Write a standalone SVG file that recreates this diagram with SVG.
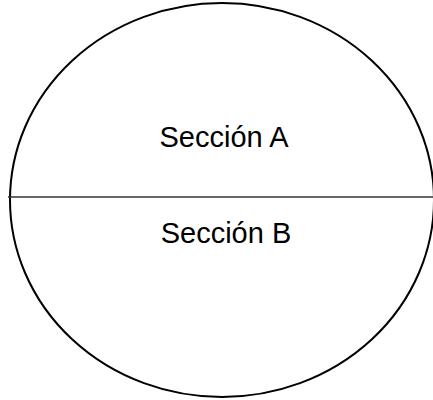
<svg xmlns="http://www.w3.org/2000/svg" width="433" height="400" viewBox="0 0 433 400">
  <style>
    .outline { fill: #ffffff; stroke: #000000; stroke-width: 2; }
    .divider { stroke: #333333; stroke-width: 1.3; fill: none; }
    .label { font-family: "Liberation Sans", Arial, sans-serif; font-size: 29px; fill: #000000; text-anchor: middle; }
  </style>
  <rect width="433" height="400" fill="#ffffff"/>
  <g id="shape">
    <ellipse class="outline" cx="222" cy="200" rx="212" ry="197"/>
  </g>
  <g id="connectors">
    <line class="divider" x1="8" y1="197" x2="433" y2="197"/>
  </g>
  <g id="section-a">
    <text class="label" x="224" y="147">Sección A</text>
  </g>
  <g id="section-b">
    <text class="label" x="226" y="243">Sección B</text>
  </g>
</svg>
